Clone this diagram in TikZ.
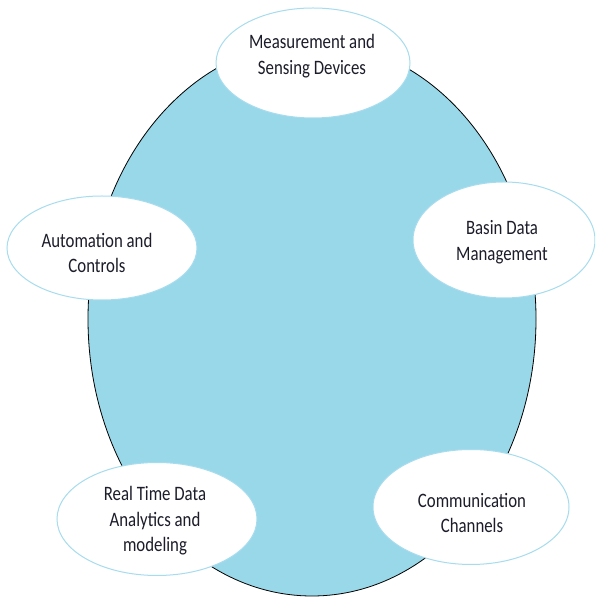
\documentclass[tikz,border=0pt]{standalone}
\usepackage{fontspec}
\setmainfont{Carlito}
\newfontfamily\capfont[FakeStretch=0.82]{Carlito}
\usetikzlibrary{shapes.geometric}
\definecolor{hubfill}{HTML}{99D8E9}
\definecolor{rimblue}{HTML}{A6DCEE}
\definecolor{inkdark}{HTML}{1C1C2A}
\tikzset{
  hub/.style={ellipse, draw=black, line width=0.8pt, fill=hubfill, inner sep=0pt},
  topic/.style={ellipse, draw=rimblue, line width=1pt, fill=white, inner sep=0pt},
  caption/.style={align=center, font=\capfont\fontsize{20.5}{25.5}\selectfont, text=inkdark, inner sep=0pt}
}
\begin{document}
\begin{tikzpicture}[x=1pt, y=1pt]
  \useasboundingbox (0,0) rectangle (595,599);
  \clip (0,0) rectangle (595,599);
  \fill[white] (0,0) rectangle (595,599);
  % central hub
  \node[hub, minimum width=448pt, minimum height=554pt] (hub) at (312,280) {};
  % surrounding topics
  \node[topic, minimum width=194pt, minimum height=110pt] (meas) at (313,536) {};
  \node[topic, minimum width=190pt, minimum height=104pt] (auto) at (102,351) {};
  \node[topic, minimum width=182pt, minimum height=116pt] (basin) at (504,359) {};
  \node[topic, minimum width=200pt, minimum height=113pt] (real) at (157,80) {};
  \node[topic, minimum width=196pt, minimum height=115pt] (comm) at (471,92) {};
  % labels
  \node[caption] (measT) at (312,543) {Measurement and\\Sensing Devices};
  \node[caption] (autoT) at (97,346) {Automation and\\Controls};
  \node[caption] (basinT) at (502,357) {Basin Data\\Management};
  \node[caption] (realT) at (155,78) {Real Time Data\\Analytics and\\modeling};
  \node[caption] (commT) at (472,86) {Communication\\Channels};
\end{tikzpicture}
\end{document}
